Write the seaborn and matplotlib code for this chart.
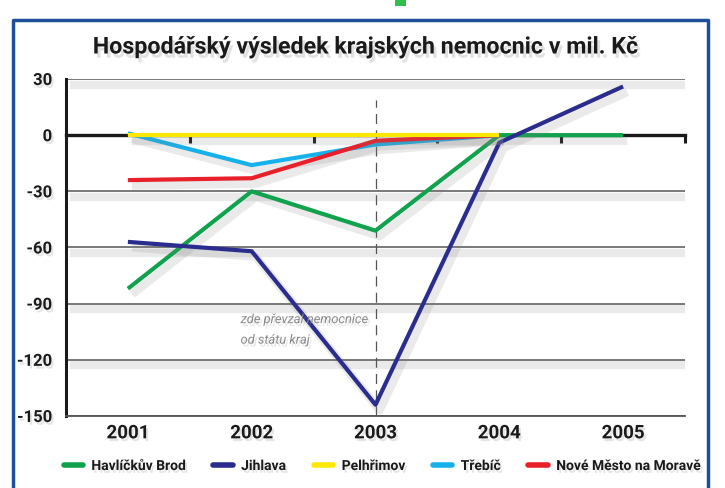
import numpy as np
import pandas as pd
import seaborn as sns
import matplotlib.pyplot as plt
import matplotlib.patheffects as pe
from matplotlib.patches import Rectangle
from matplotlib.lines import Line2D

# data (mil. Kč)
years = [2001, 2002, 2003, 2004, 2005]
havlickuv_brod = [-82, -30, -51, 0, 0]
jihlava = [-57, -62, -144, -4, 26]
pelhrimov = [0, 0, 0, 0, np.nan]
trebic = [1, -16, -5, 0, np.nan]
nove_mesto = [-24, -23, -3, 0, np.nan]

series_names = ["Havlíčkův Brod", "Jihlava", "Pelhřimov", "Třebíč", "Nové Město na Moravě"]
colors = ["#10a24c", "#2b2d8e", "#ffe800", "#16b1ea", "#e8202a"]
y_ticks = [30, 0, -30, -60, -90, -120, -150]
title = "Hospodářský výsledek krajských nemocnic v mil. Kč"
note = "zde převzal nemocnice\nod státu kraj"

df = pd.DataFrame({"rok": years * 5,
                   "hodnota": havlickuv_brod + jihlava + pelhrimov + trebic + nove_mesto,
                   "nemocnice": sum([[n] * len(years) for n in series_names], [])})

sns.set_style("white")
plt.rcParams["font.family"] = ["Roboto", "DejaVu Sans"]
plt.rcParams["axes.unicode_minus"] = False

fig = plt.figure(figsize=(7.25, 4.88), dpi=100)
ax = fig.add_axes([66 / 725, 1 - 416 / 488, (685 - 66) / 725, (416 - 79) / 488])


def soft(dx, dy, lw, a):
    return [pe.SimpleLineShadow(offset=(dx, dy), shadow_color="#808080", alpha=a, linewidth=lw), pe.Normal()]


txt_shadow = [pe.withSimplePatchShadow(offset=(1.5, -2), shadow_rgbFace="#999999", alpha=0.25)]

# grid lines
for v in y_ticks:
    if v != 0:
        ax.axhline(v, color="#555555", lw=1.1, zorder=1, path_effects=soft(2, -4, 5, 0.1))

ax.vlines(2003, -150, 19, color="#555555", lw=0.9, linestyles=(0, (8, 5)), zorder=2)

sns.lineplot(data=df, x="rok", y="hodnota", hue="nemocnice", palette=colors,
             hue_order=series_names, lw=3, ax=ax, zorder=3, legend=False)
for line in ax.lines:
    if line.get_linestyle() == "-":
        line.set_path_effects(soft(3, -4, 6, 0.16))
        line.set_solid_capstyle("butt")
# yellow over the others
ax.lines[-3].set_zorder(4)

ax.set_xlim(2000.5, 2005.5)
ax.set_ylim(-150, 30)
ax.set_xticks(years)
ax.set_xticklabels([str(y) for y in years])
ax.set_yticks(y_ticks)
ax.set_xlabel("")
ax.set_ylabel("")
ax.tick_params(axis="both", length=0, colors="#1a1a1a")
ax.tick_params(axis="y", pad=10, labelsize=12)
ax.tick_params(axis="x", pad=6, labelsize=13.5)
for lab in ax.get_xticklabels() + ax.get_yticklabels():
    lab.set_fontweight("bold")
    lab.set_path_effects(txt_shadow)

for s in ["top", "right"]:
    ax.spines[s].set_visible(False)
ax.spines["left"].set_color("#1a1a1a")
ax.spines["left"].set_linewidth(2.2)
ax.spines["bottom"].set_color("#555555")
ax.spines["bottom"].set_linewidth(1.3)

# zero line with small ticks between years
sec = ax.secondary_xaxis(150 / 180)
sec.set_xticks([2001.5, 2002.5, 2003.5, 2004.5, 2005.5])
sec.set_xticklabels([])
sec.tick_params(direction="in", length=6, width=2.2, color="#1a1a1a", top=True, bottom=False)
sec.xaxis.set_ticks_position("top")
sec.spines["top"].set_color("#1a1a1a")
sec.spines["top"].set_linewidth(2.4)

nt = ax.text(2001.91, -104, note, fontsize=11.5, style="italic", color="#8a8a8a",
             va="center", ha="left", linespacing=1.75, path_effects=txt_shadow)

tt = fig.text(0.504, 1 - 47 / 488, title, fontsize=22, fontweight="bold", ha="center", va="center",
              color="#1a1a1a", path_effects=[pe.withSimplePatchShadow(offset=(2, -3), shadow_rgbFace="#888888", alpha=0.25)])

handles = [Line2D([], [], color=c, lw=4, solid_capstyle="round") for c in colors]


def make_legend(size):
    lg = fig.legend(handles, series_names, loc="center", bbox_to_anchor=(382 / 725, 1 - 466 / 488),
                    ncol=5, frameon=False, handlelength=1.4, columnspacing=2.0, handletextpad=0.6,
                    prop={"size": size, "weight": "bold"})
    for t in lg.get_texts():
        t.set_color("#1a1a1a")
        t.set_path_effects(txt_shadow)
    return lg


leg = make_legend(12.5)

# fit texts to the widths seen in the picture
fig.canvas.draw()
w = tt.get_window_extent().width
tt.set_fontsize(22 * 545 / w)
w = nt.get_window_extent().width
nt.set_fontsize(11.5 * 128 / w)
w = leg.get_window_extent().width
leg.remove()
leg = make_legend(12.5 * 650 / w)

# blue frame and small green mark at the top
fx = [13 / 725, 13 / 725, 708 / 725, 708 / 725]
fy = [0, 1 - 20 / 488, 1 - 20 / 488, 0]
fig.add_artist(Line2D(fx, fy, transform=fig.transFigure, color="#1d4f9c", lw=2.5))
fig.add_artist(Rectangle((395 / 725, 1 - 6 / 488), 11 / 725, 6 / 488,
                         transform=fig.transFigure, color="#2fbf4a", lw=0))

fig.savefig("out.png", dpi=100, facecolor="white")
